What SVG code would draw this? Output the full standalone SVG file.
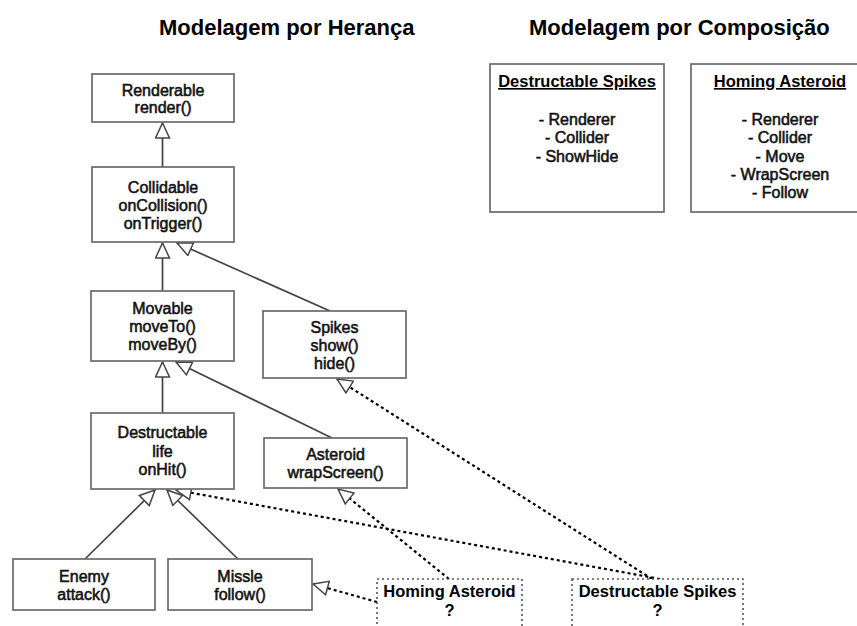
<svg xmlns="http://www.w3.org/2000/svg" width="857" height="626" viewBox="0 0 857 626">
  <style>
    .title { font-family: "Liberation Sans", Arial, sans-serif; font-size: 22px; font-weight: bold; fill: #000; }
    .box { fill: #fff; stroke: #6a6a6a; stroke-width: 1.7; }
    .dbox { fill: #fff; stroke: #555; stroke-width: 1.6; stroke-dasharray: 2 3; }
    .t { font-family: "Liberation Sans", Arial, sans-serif; font-size: 16px; fill: #111; stroke: #111; stroke-width: 0.55; text-anchor: middle; }
    .tb { font-family: "Liberation Sans", Arial, sans-serif; font-size: 16.5px; font-weight: bold; fill: #000; text-anchor: middle; }
    .u { text-decoration: underline; }
    .solid { fill: none; stroke: #444; stroke-width: 1.7; marker-end: url(#inherit); }
    .dotted { fill: none; stroke: #000; stroke-width: 2.2; stroke-dasharray: 3 3; marker-end: url(#inherit); }
  </style>
  <defs>
    <!-- hollow generalisation arrowhead -->
    <marker id="inherit" viewBox="0 0 17 16" refX="16" refY="8" markerWidth="17" markerHeight="16" markerUnits="userSpaceOnUse" orient="auto">
      <path d="M1,1 L16,8 L1,15 Z" fill="#fff" stroke="#444" stroke-width="1.5" stroke-linejoin="miter"/>
    </marker>
  </defs>

  <rect width="857" height="626" fill="#fff"/>

  <text class="title" x="159" y="35">Modelagem por Herança</text>
  <text class="title" x="529" y="35">Modelagem por Composição</text>

  <!-- generalisation connectors -->
  <g id="connectors">
    <path class="solid" d="M162.5,167 L162.5,123"/>
    <path class="solid" d="M162.5,291 L162.5,243"/>
    <path class="solid" d="M330,311 L177,243"/>
    <path class="solid" d="M162.5,413 L162.5,362"/>
    <path class="solid" d="M332,438 L176,362"/>
    <path class="solid" d="M85,559 L155,490"/>
    <path class="solid" d="M238,559 L167,490"/>
    <path class="dotted" d="M377,602 L313,584"/>
    <path class="dotted" d="M449,579 L338,489"/>
    <path class="dotted" d="M652,579 L337,379"/>
    <path class="dotted" d="M660,579 L176,490"/>
  </g>

  <g id="renderable">
    <rect class="box" x="92" y="74" width="142" height="48"/>
    <text class="t" x="163" y="96">Renderable</text>
    <text class="t" x="163" y="113">render()</text>
  </g>
  <g id="collidable">
    <rect class="box" x="92" y="167" width="142" height="75"/>
    <text class="t" x="163" y="193">Collidable</text>
    <text class="t" x="163" y="211">onCollision()</text>
    <text class="t" x="163" y="229">onTrigger()</text>
  </g>
  <g id="movable">
    <rect class="box" x="91" y="291" width="143" height="70"/>
    <text class="t" x="162.5" y="314">Movable</text>
    <text class="t" x="162.5" y="332">moveTo()</text>
    <text class="t" x="162.5" y="350">moveBy()</text>
  </g>
  <g id="spikes">
    <rect class="box" x="263" y="311" width="143" height="67"/>
    <text class="t" x="334.5" y="333">Spikes</text>
    <text class="t" x="334.5" y="351">show()</text>
    <text class="t" x="334.5" y="369">hide()</text>
  </g>
  <g id="destructable">
    <rect class="box" x="91" y="413" width="143" height="76"/>
    <text class="t" x="162.5" y="438">Destructable</text>
    <text class="t" x="162.5" y="457">life</text>
    <text class="t" x="162.5" y="475">onHit()</text>
  </g>
  <g id="asteroid">
    <rect class="box" x="264" y="438" width="143" height="50"/>
    <text class="t" x="335.5" y="460">Asteroid</text>
    <text class="t" x="335.5" y="478">wrapScreen()</text>
  </g>
  <g id="enemy">
    <rect class="box" x="13" y="559" width="142" height="51"/>
    <text class="t" x="84" y="582">Enemy</text>
    <text class="t" x="84" y="600">attack()</text>
  </g>
  <g id="missle">
    <rect class="box" x="168" y="559" width="144" height="51"/>
    <text class="t" x="240" y="582">Missle</text>
    <text class="t" x="240" y="600">follow()</text>
  </g>
  <g id="homing-asteroid">
    <rect class="dbox" x="377" y="579" width="145" height="80"/>
    <text class="tb" x="449.5" y="597">Homing Asteroid</text>
    <text class="tb" x="449.5" y="616">?</text>
  </g>
  <g id="destructable-spikes">
    <rect class="dbox" x="572" y="579" width="171" height="80"/>
    <text class="tb" x="657.5" y="597">Destructable Spikes</text>
    <text class="tb" x="657.5" y="616">?</text>
  </g>

  <g id="comp-destructable-spikes">
    <rect class="box" x="490" y="64" width="174" height="148"/>
    <text class="tb u" x="577" y="87">Destructable Spikes</text>
    <text class="t" x="577" y="125">- Renderer</text>
    <text class="t" x="577" y="143">- Collider</text>
    <text class="t" x="577" y="162">- ShowHide</text>
  </g>
  <g id="comp-homing-asteroid">
    <rect class="box" x="691" y="64" width="178" height="148"/>
    <text class="tb u" x="780" y="87">Homing Asteroid</text>
    <text class="t" x="780" y="125">- Renderer</text>
    <text class="t" x="780" y="143">- Collider</text>
    <text class="t" x="780" y="162">- Move</text>
    <text class="t" x="780" y="180">- WrapScreen</text>
    <text class="t" x="780" y="198">- Follow</text>
  </g>
</svg>
